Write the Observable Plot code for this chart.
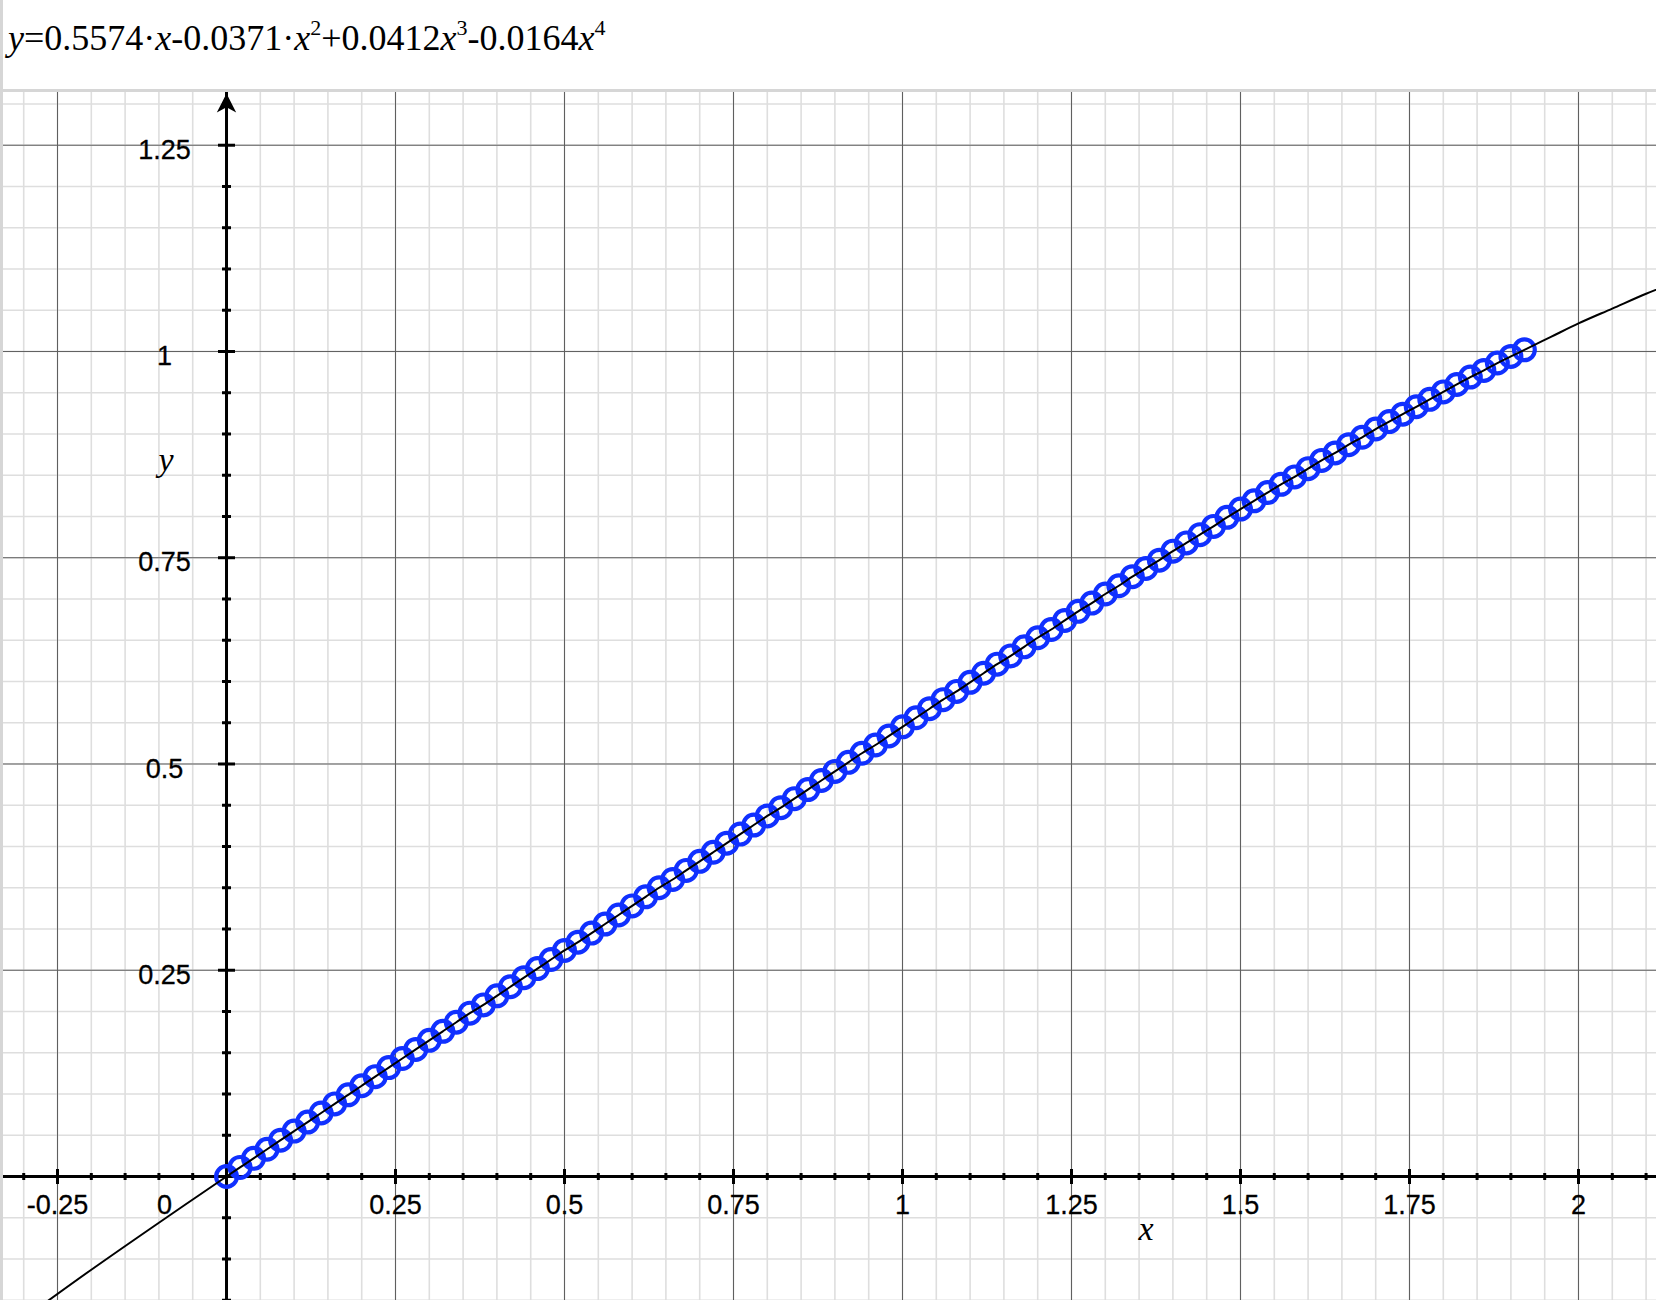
<!DOCTYPE html>
<html>
<head>
<meta charset="utf-8">
<script src="https://cdn.jsdelivr.net/npm/d3@7"></script>
<script src="https://cdn.jsdelivr.net/npm/@observablehq/plot@0.6"></script>
<style>
html, body { margin: 0; padding: 0; background: #fff; }
#wrap { width: 1653px; height: 1300px; border-left: 3px solid #d6d6d6; overflow: hidden; position: relative; }
#title { box-sizing: border-box; height: 92px; border-bottom: 3px solid #d6d6d6; padding: 20px 0 0 5px;
  font-family: "Liberation Serif", "Times New Roman", serif; font-size: 36px; line-height: 36px; color: #000; white-space: nowrap; }
#title i { font-style: italic; }
#title sup { font-size: 22px; vertical-align: baseline; position: relative; top: -15px; }
#chart svg { display: block; }
</style>
</head>
<body>
<div id="wrap">
  <div id="title"><i>y</i>=0.5574·<i>x</i>-0.0371·<i>x</i><sup>2</sup>+0.0412<i>x</i><sup>3</sup>-0.0164<i>x</i><sup>4</sup></div>
  <div id="chart"></div>
</div>
<script>
// ---- data ----
const pointX = [
  0, 0.02, 0.04, 0.06, 0.08, 0.1, 0.12, 0.14, 0.16, 0.18,
  0.2, 0.22, 0.24, 0.26, 0.28, 0.3, 0.32, 0.34, 0.36, 0.38,
  0.4, 0.42, 0.44, 0.46, 0.48, 0.5, 0.52, 0.54, 0.56, 0.58,
  0.6, 0.62, 0.64, 0.66, 0.68, 0.7, 0.72, 0.74, 0.76, 0.78,
  0.8, 0.82, 0.84, 0.86, 0.88, 0.9, 0.92, 0.94, 0.96, 0.98,
  1.0, 1.02, 1.04, 1.06, 1.08, 1.1, 1.12, 1.14, 1.16, 1.18,
  1.2, 1.22, 1.24, 1.26, 1.28, 1.3, 1.32, 1.34, 1.36, 1.38,
  1.4, 1.42, 1.44, 1.46, 1.48, 1.5, 1.52, 1.54, 1.56, 1.58,
  1.6, 1.62, 1.64, 1.66, 1.68, 1.7, 1.72, 1.74, 1.76, 1.78,
  1.8, 1.82, 1.84, 1.86, 1.88, 1.9, 1.92
];
const pointY = [
  0, 0.011, 0.022, 0.033, 0.044, 0.055, 0.066, 0.077, 0.088, 0.099,
  0.110, 0.121, 0.132, 0.143, 0.154, 0.165, 0.176, 0.187, 0.198, 0.208,
  0.219, 0.230, 0.241, 0.252, 0.263, 0.274, 0.284, 0.295, 0.306, 0.317,
  0.328, 0.339, 0.350, 0.360, 0.371, 0.382, 0.393, 0.404, 0.415, 0.426,
  0.437, 0.447, 0.458, 0.469, 0.480, 0.491, 0.502, 0.513, 0.523, 0.534,
  0.545, 0.556, 0.567, 0.578, 0.588, 0.599, 0.610, 0.621, 0.631, 0.642,
  0.653, 0.663, 0.674, 0.685, 0.695, 0.706, 0.716, 0.727, 0.737, 0.747,
  0.758, 0.768, 0.778, 0.788, 0.799, 0.809, 0.819, 0.829, 0.839, 0.848,
  0.858, 0.868, 0.877, 0.887, 0.896, 0.906, 0.915, 0.924, 0.933, 0.942,
  0.951, 0.960, 0.969, 0.977, 0.986, 0.994, 1.002
];
const curveLeftX = [-0.35, -0.3, -0.2, -0.1];
const curveLeftY = [-0.202, -0.172, -0.113, -0.056];
const curveRightX = [1.96, 2.0, 2.05, 2.1, 2.15];
const curveRightY = [1.018, 1.034, 1.052, 1.070, 1.086];

const xTickValues = [-0.25, 0.25, 0.5, 0.75, 1, 1.25, 1.5, 1.75, 2];
const xTickLabels = ["-0.25", "0.25", "0.5", "0.75", "1", "1.25", "1.5", "1.75", "2"];
const yTickValues = [0.25, 0.5, 0.75, 1, 1.25];
const yTickLabels = ["0.25", "0.5", "0.75", "1", "1.25"];
const originLabel = ["0"];
const xAxisTitle = ["x"];
const yAxisTitle = ["y"];

// ---- derived tables ----
const points = pointX.map((x, i) => ({x, y: pointY[i]}));
const curve = [
  ...curveLeftX.map((x, i) => ({x, y: curveLeftY[i]})),
  ...points,
  ...curveRightX.map((x, i) => ({x, y: curveRightY[i]}))
];
const xMinor = d3.range(-6, 43).map(k => +(k * 0.05).toFixed(2));
const yMinor = d3.range(-3, 27).map(k => +(k * 0.05).toFixed(2));
const xMinorTicks = d3.range(-6, 43).filter(k => k % 5 !== 0).map(k => +(k * 0.05).toFixed(2));
const yMinorTicks = d3.range(-3, 27).filter(k => k % 5 !== 0).map(k => +(k * 0.05).toFixed(2));

// ---- symbols ----
const vMinor = {draw(c) { c.moveTo(0, -3.5); c.lineTo(0, 3.5); }};
const vMajor = {draw(c) { c.moveTo(0, -7.5); c.lineTo(0, 7.5); }};
const hMinor = {draw(c) { c.moveTo(-4.5, 0); c.lineTo(4.5, 0); }};
const hMajor = {draw(c) { c.moveTo(-8.5, 0); c.lineTo(8.5, 0); }};
const arrowHead = {draw(c) { c.moveTo(0, -10); c.lineTo(9.7, 9); c.lineTo(0, 3.8); c.lineTo(-9.7, 9); c.closePath(); }};

const sans = "'Liberation Sans', Arial, Helvetica, sans-serif";
const serif = "'Liberation Serif', 'Times New Roman', serif";

const chart = Plot.plot({
  width: 1653,
  height: 1208,
  margin: 0,
  style: {background: "white", overflow: "hidden"},
  x: {domain: [-0.3299, 2.1154], axis: null},
  y: {domain: [-0.1503, 1.3139], axis: null},
  marks: [
    Plot.ruleX(xMinor, {stroke: "#dedede", strokeWidth: 1.6}),
    Plot.ruleY(yMinor, {stroke: "#dedede", strokeWidth: 1.6}),
    Plot.ruleX(xTickValues, {stroke: "#5f5f5f", strokeWidth: 1}),
    Plot.ruleY(yTickValues, {stroke: "#5f5f5f", strokeWidth: 1}),
    Plot.ruleY([0], {stroke: "black", strokeWidth: 3}),
    Plot.ruleX([0], {stroke: "black", strokeWidth: 3}),
    Plot.dot(xMinorTicks, {x: d => d, y: () => 0, symbol: vMinor, stroke: "black", strokeWidth: 3, fill: "none"}),
    Plot.dot(xTickValues, {x: d => d, y: () => 0, symbol: vMajor, stroke: "black", strokeWidth: 3, fill: "none"}),
    Plot.dot(yMinorTicks, {x: () => 0, y: d => d, symbol: hMinor, stroke: "black", strokeWidth: 3, fill: "none"}),
    Plot.dot(yTickValues, {x: () => 0, y: d => d, symbol: hMajor, stroke: "black", strokeWidth: 3, fill: "none"}),
    Plot.dot(points, {x: "x", y: "y", r: 10.4, stroke: "#1030ff", strokeWidth: 4.2, fill: "none"}),
    Plot.line(curve, {x: "x", y: "y", stroke: "black", strokeWidth: 2, curve: "catmull-rom", clip: true}),
    Plot.text(xTickValues, {x: d => d, y: () => 0, text: (d, i) => xTickLabels[i], dy: 29, fontSize: 27, fontFamily: sans, fill: "black", stroke: "black", strokeWidth: 0.3}),
    Plot.text(originLabel, {x: () => 0, y: () => 0, text: d => d, dx: -62, dy: 29, fontSize: 27, fontFamily: sans, fill: "black", stroke: "black", strokeWidth: 0.3}),
    Plot.text(yTickValues, {x: () => 0, y: d => d, text: (d, i) => yTickLabels[i], dx: -62, dy: 5, fontSize: 27, fontFamily: sans, fill: "black", stroke: "black", strokeWidth: 0.3}),
    Plot.text(yAxisTitle, {frameAnchor: "top-left", text: d => d, dx: 155, dy: 354, fontSize: 34, fontStyle: "italic", fontFamily: serif, fill: "black"}),
    Plot.text(xAxisTitle, {frameAnchor: "top-left", text: d => d, dx: 1135, dy: 1123, fontSize: 34, fontStyle: "italic", fontFamily: serif, fill: "black"}),
    Plot.dot([0], {x: d => d, frameAnchor: "top", dy: 11, symbol: arrowHead, fill: "black", stroke: "none"})
  ]
});
document.getElementById("chart").appendChild(chart);
</script>
</body>
</html>
